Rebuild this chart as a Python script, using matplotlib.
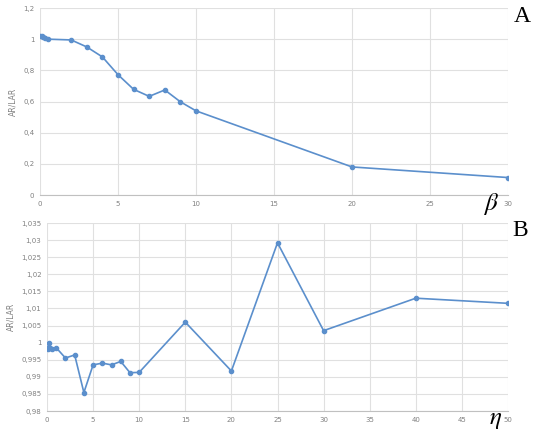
import numpy as np
import matplotlib.pyplot as plt
from matplotlib.ticker import FuncFormatter, MultipleLocator

plt.rcParams['mathtext.fontset'] = 'stix'

# --- data ---
beta = [0, 0.1, 0.2, 0.3, 0.5, 2, 3, 4, 5, 6, 7, 8, 9, 10, 20, 30]
ratio_a = [1.02, 1.018, 1.015, 1.01, 1.0, 0.995, 0.95, 0.886, 0.772, 0.678,
           0.633, 0.674, 0.598, 0.54, 0.18, 0.112]

eta = [0, 0.1, 0.2, 0.3, 0.5, 1, 2, 3, 4, 5, 6, 7, 8, 9, 10, 15, 20, 25, 30, 40, 50]
ratio_b = [0.9985, 0.9982, 0.9998, 0.9985, 0.998, 0.9985, 0.9955, 0.9964, 0.9854,
           0.9935, 0.994, 0.9935, 0.9945, 0.9912, 0.9913, 1.006, 0.9917, 1.0292,
           1.0035, 1.013, 1.0115]

line_col = '#5B8FCC'
grid_col = '#E0E0E0'
tick_col = '#808080'

def comma_fmt(v, pos):
    s = ('%.3f' % v).rstrip('0').rstrip('.')
    return s.replace('.', ',')

def style(ax):
    for s in ['top', 'right', 'left']:
        ax.spines[s].set_visible(False)
    ax.spines['bottom'].set_color('#C0C0C0')
    ax.grid(True, color=grid_col, linewidth=0.8)
    ax.set_axisbelow(True)
    ax.tick_params(length=0, labelsize=5, colors=tick_col, pad=4)
    ax.yaxis.set_major_formatter(FuncFormatter(comma_fmt))
    ax.set_ylabel('AR/LAR', fontsize=5.5, color=tick_col, labelpad=4)

fig = plt.figure(figsize=(5.48, 4.41), dpi=100)
W, H = 548, 441

ax1 = fig.add_axes([40 / W, 1 - 195 / H, 468 / W, 187 / H])
ax1.plot(beta, ratio_a, color=line_col, lw=1.2, marker='o', ms=3)
ax1.set_xlim(0, 30)
ax1.set_ylim(0, 1.2)
ax1.xaxis.set_major_locator(MultipleLocator(5))
ax1.yaxis.set_major_locator(MultipleLocator(0.2))
style(ax1)

ax2 = fig.add_axes([47 / W, 1 - 411 / H, 461 / W, 188 / H])
ax2.plot(eta, ratio_b, color=line_col, lw=1.2, marker='o', ms=3)
ax2.set_xlim(0, 50)
ax2.set_ylim(0.98, 1.035)
ax2.xaxis.set_major_locator(MultipleLocator(5))
ax2.yaxis.set_major_locator(MultipleLocator(0.005))
style(ax2)

fig.text(514 / W, 1 - 16 / H, 'A', fontsize=17, family='Liberation Serif', va='center', ha='left')
fig.text(512 / W, 1 - 231 / H, 'B', fontsize=17, family='Liberation Serif', va='center', ha='left')
fig.text(491 / W, 1 - 204 / H, r'$\beta$', fontsize=18, va='center', ha='center')
fig.text(496 / W, 1 - 419 / H, r'$\eta$', fontsize=18, va='center', ha='center')

plt.savefig('out.png', dpi=100)
